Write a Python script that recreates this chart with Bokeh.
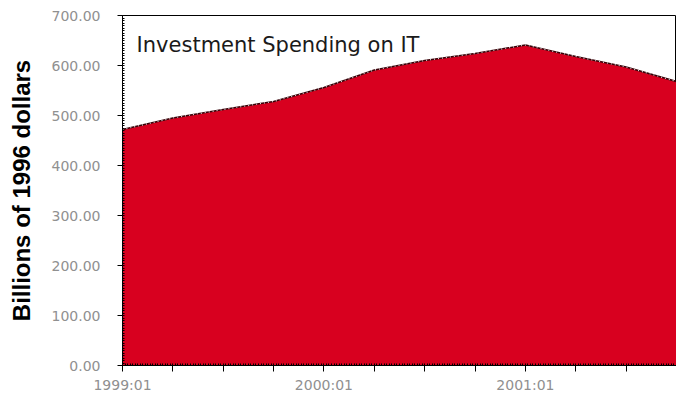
from bokeh.plotting import figure
from bokeh.models import FixedTicker, Label, Range1d
from bokeh.embed import file_html
from bokeh.resources import INLINE

quarters = ["1999:01", "1999:02", "1999:03", "1999:04",
            "2000:01", "2000:02", "2000:03", "2000:04",
            "2001:01", "2001:02", "2001:03", "2001:04"]
spending = [472, 495, 512, 528, 556, 591, 610, 624, 641, 618, 597, 568]
labeled = ["1999:01", "2000:01", "2001:01"]
y_ticks = [0, 100, 200, 300, 400, 500, 600, 700]

xs = list(range(len(quarters)))

p = figure(width=676, height=400, output_backend="svg", toolbar_location=None,
           x_range=Range1d(0, len(quarters) - 1), y_range=Range1d(0, 700),
           min_border_left=122, min_border_right=0, min_border_top=15, min_border_bottom=35)
p.background_fill_color = "white"
p.border_fill_color = "white"
p.outline_line_color = "black"
p.outline_line_width = 1
p.grid.visible = False

p.varea(x=xs, y1=[0] * len(xs), y2=spending, fill_color="#d8001f")
p.line(x=xs, y=spending, line_color="#3a0008", line_width=1.5)
p.line(x=xs, y=spending, line_color="#dddddd", line_width=1.2, line_dash="1 3")

# x axis
xax = p.xaxis[0]
xax.ticker = FixedTicker(ticks=xs, minor_ticks=[i / 20 for i in range(0, 20 * (len(xs) - 1) + 1)])
xax.major_label_overrides = {i: (q if q in labeled else "") for i, q in enumerate(quarters)}
xax.major_tick_out = 6
xax.major_tick_in = 0
xax.minor_tick_in = 2
xax.minor_tick_out = 0
xax.minor_tick_line_color = "black"
xax.axis_line_color = "black"
xax.major_label_text_font = "DejaVu Sans"
xax.major_label_text_font_size = "14px"
xax.major_label_text_color = "#909090"
xax.major_label_standoff = 5

# y axis
yax = p.yaxis[0]
yax.ticker = FixedTicker(ticks=y_ticks, minor_ticks=[i * 5 for i in range(0, 141)])
yax.major_label_overrides = {t: f"{t:.2f}" for t in y_ticks}
yax.major_tick_out = 5
yax.major_tick_in = 0
yax.minor_tick_in = 2
yax.minor_tick_out = 0
yax.minor_tick_line_color = "black"
yax.axis_line_color = "black"
yax.major_label_text_font = "DejaVu Sans"
yax.major_label_text_font_size = "14px"
yax.major_label_text_color = "#909090"
yax.major_label_standoff = 17
yax.axis_label = "Billions of 1996 dollars"
yax.axis_label_text_font = "Liberation Sans"
yax.axis_label_text_font_style = "bold"
yax.axis_label_text_font_size = "24px"
yax.axis_label_text_color = "black"
yax.axis_label_standoff = 14

p.add_layout(Label(x=0.28, y=642, text="Investment Spending on IT",
                   text_font="DejaVu Sans", text_font_size="21px",
                   text_color="#1a1a1a", text_baseline="middle", text_align="left"))

open("out.html", "w").write(file_html(p, INLINE))
